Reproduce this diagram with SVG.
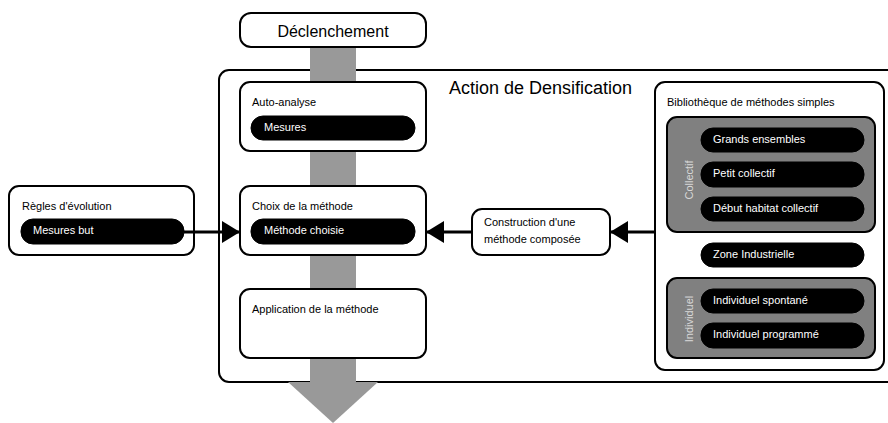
<svg xmlns="http://www.w3.org/2000/svg" width="888" height="423" viewBox="0 0 888 423">
<defs>
<style>
.box{fill:#fff;stroke:#000;stroke-width:2}
.grp{fill:#808080;stroke:#000;stroke-width:2}
.pill{fill:#000;stroke:#000;stroke-width:1}
.lbl{font-family:"Liberation Sans",Arial,sans-serif;font-size:11px;fill:#000}
.pt{font-family:"Liberation Sans",Arial,sans-serif;font-size:11px;fill:#fff}
.rot{font-family:"Liberation Sans",Arial,sans-serif;font-size:11px;fill:#d8d8d8}
.conn{stroke:#000;stroke-width:3;fill:none}
</style>
<marker id="ah" markerUnits="userSpaceOnUse" markerWidth="18" markerHeight="22" refX="18" refY="11" orient="auto">
<path d="M0,0 L18,11 L0,22 Z" fill="#000"/>
</marker>
</defs>
<g id="action">
<rect class="box" x="219" y="70" width="700" height="312" rx="10"/>
<text x="449" y="94" font-family="Liberation Sans,Arial,sans-serif" font-size="18" fill="#000">Action de Densification</text>
</g>
<g id="flow">
<rect x="310" y="47" width="46" height="336" fill="#999"/>
<polygon points="288,382 378,382 333,423" fill="#999"/>
</g>
<g id="declenchement">
<rect class="box" x="240" y="13" width="186" height="34" rx="11"/>
<text x="333" y="37" text-anchor="middle" font-family="Liberation Sans,Arial,sans-serif" font-size="16" fill="#000">Déclenchement</text>
</g>
<g id="auto-analyse">
<rect class="box" x="240" y="82" width="186" height="69" rx="10"/>
<text class="lbl" x="252" y="106">Auto-analyse</text>
<rect class="pill" x="251" y="116" width="164" height="24" rx="12"/>
<text class="pt" x="264" y="131">Mesures</text>
</g>
<g id="choix">
<rect class="box" x="240" y="186" width="186" height="69" rx="10"/>
<text class="lbl" x="252" y="210">Choix de la méthode</text>
<rect class="pill" x="251" y="219" width="164" height="25" rx="12"/>
<text class="pt" x="264" y="234">Méthode choisie</text>
</g>
<g id="application">
<rect class="box" x="240" y="289" width="186" height="69" rx="10"/>
<text class="lbl" x="252" y="313">Application de la méthode</text>
</g>
<g id="regles">
<rect class="box" x="9" y="186" width="185" height="69" rx="10"/>
<text class="lbl" x="22" y="210">Règles d'évolution</text>
<rect class="pill" x="21" y="219" width="163" height="25" rx="12"/>
<text class="pt" x="33" y="234">Mesures but</text>
</g>
<g id="construction">
<rect class="box" x="472" y="209" width="138" height="46" rx="10"/>
<text class="lbl" x="484" y="226">Construction d'une</text>
<text class="lbl" x="484" y="243">méthode composée</text>
</g>
<g id="bibliotheque">
<rect class="box" x="655" y="82" width="229" height="288" rx="10"/>
<text class="lbl" x="667" y="106">Bibliothèque de méthodes simples</text>
</g>
<g id="collectif">
<rect class="grp" x="667" y="117" width="208" height="115" rx="10"/>
<text class="rot" transform="translate(693,180) rotate(-90)" text-anchor="middle">Collectif</text>
<rect class="pill" x="701" y="128" width="163" height="24" rx="12"/>
<text class="pt" x="713" y="143">Grands ensembles</text>
<rect class="pill" x="701" y="162" width="163" height="25" rx="12"/>
<text class="pt" x="713" y="177">Petit collectif</text>
<rect class="pill" x="701" y="197" width="163" height="24" rx="12"/>
<text class="pt" x="713" y="212">Début habitat collectif</text>
</g>
<g id="zone">
<rect class="pill" x="701" y="243" width="163" height="24" rx="12"/>
<text class="pt" x="713" y="258">Zone Industrielle</text>
</g>
<g id="individuel">
<rect class="grp" x="667" y="278" width="208" height="80" rx="10"/>
<text class="rot" transform="translate(693,319) rotate(-90)" text-anchor="middle">Individuel</text>
<rect class="pill" x="701" y="289" width="163" height="24" rx="12"/>
<text class="pt" x="713" y="304">Individuel spontané</text>
<rect class="pill" x="701" y="323" width="163" height="25" rx="12"/>
<text class="pt" x="713" y="338">Individuel programmé</text>
</g>
<g id="connectors">
<line class="conn" x1="184" y1="232" x2="240" y2="232" marker-end="url(#ah)"/>
<line class="conn" x1="472" y1="232" x2="426" y2="232" marker-end="url(#ah)"/>
<line class="conn" x1="655" y1="232" x2="610" y2="232" marker-end="url(#ah)"/>
</g>
</svg>
